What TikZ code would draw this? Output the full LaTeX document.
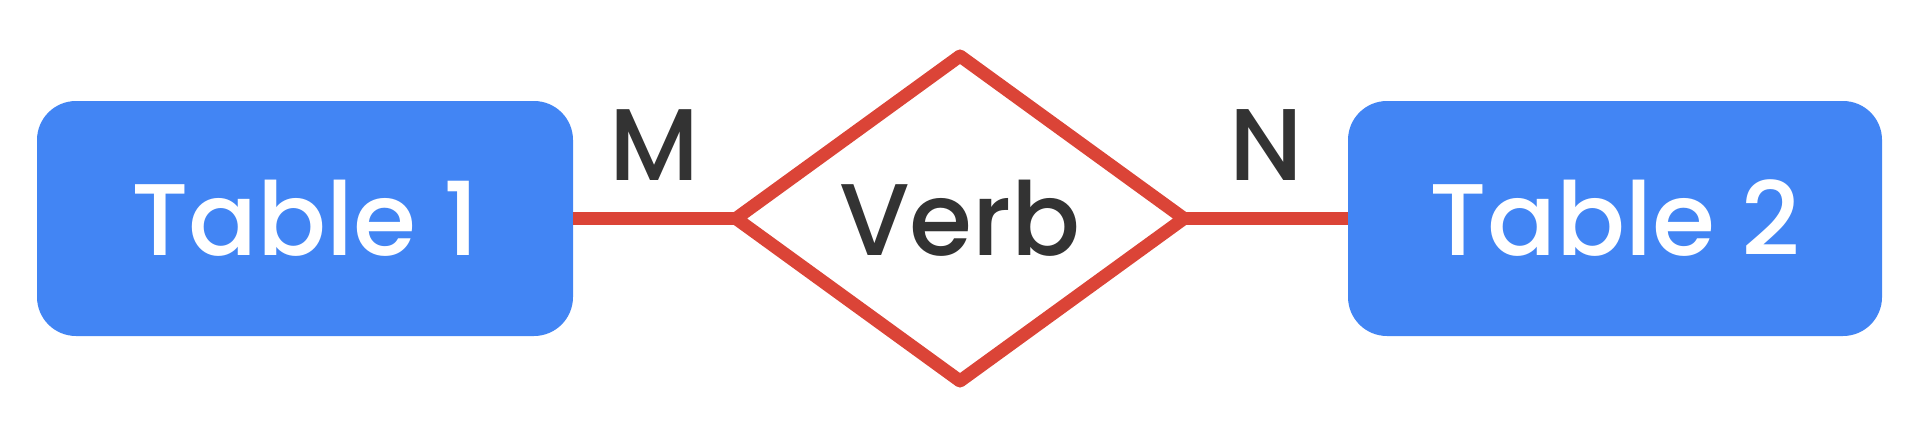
\documentclass[tikz,border=0pt]{standalone}
\usepackage{fontspec}
\setmainfont{Poppins Medium}
\usepackage{xcolor}
\usepackage{tikz}
\usetikzlibrary{shapes.geometric}

\definecolor{tblblue}{HTML}{4285F4}
\definecolor{relred}{HTML}{DB4437}
\definecolor{labgray}{HTML}{333333}

\begin{document}
\begin{tikzpicture}[line width=3.7pt,
  table/.style={fill=tblblue, text=white, rounded corners=0.39cm, minimum width=5.36cm, minimum height=2.35cm, inner sep=0pt, outer sep=0pt, font=\fontsize{29}{34}\selectfont},
  relation/.style={diamond, draw=relred, line join=round, fill=white, text=labgray, minimum width=4.48cm, minimum height=3.25cm, inner sep=0pt, outer sep=0pt, font=\fontsize{29}{34}\selectfont},
  link/.style={draw=relred},
  card/.style={midway, anchor=base, inner sep=0pt, yshift=0.385cm, text=labgray, font=\fontsize{29}{34}\selectfont}]
\useasboundingbox (0,0) rectangle (19.2,4.38);

\node[table] (t1) at (3.05,2.195) {Table 1};
\node[table, minimum width=5.34cm] (t2) at (16.15,2.195) {Table 2};
\node[relation] (verb) at (9.60,2.195) {Verb};

\draw[link] (t1.east) -- node[card] {M} (verb.west);
\draw[link] (verb.east) -- node[card] {N} (t2.west);
\end{tikzpicture}
\end{document}
